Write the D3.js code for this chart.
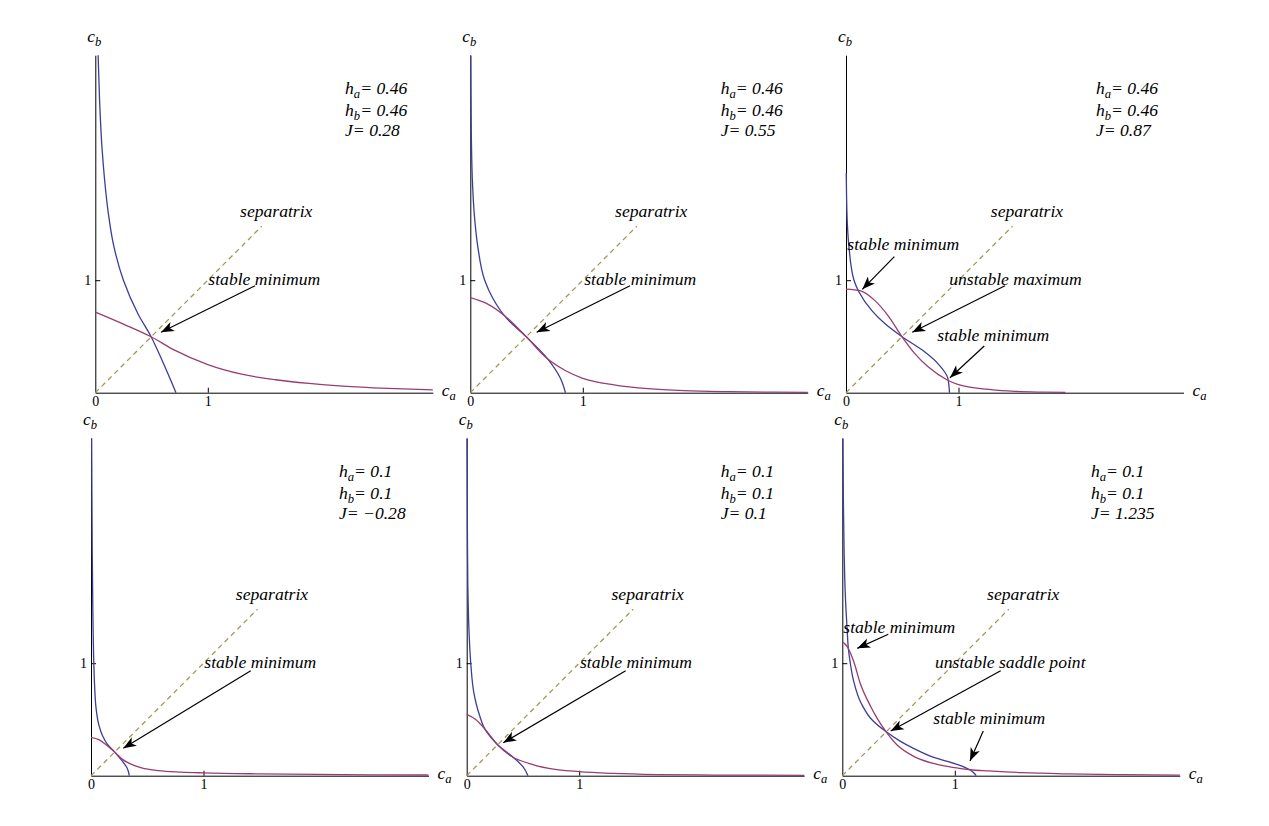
<!DOCTYPE html>
<html>
<head>
<meta charset="utf-8">
<script src="https://cdn.jsdelivr.net/npm/d3@7"></script>
<style>
  body { margin: 0; background: #fff; }
  svg text { font-family: 'Liberation Serif', 'Times New Roman', serif; }
</style>
</head>
<body>
<svg width="1269" height="826"></svg>
<script>
'use strict'

const d3 = window.d3

// parameters printed in each panel (top row left->right, then bottom row)
const hA = [0.46, 0.46, 0.46, 0.1, 0.1, 0.1]
const hB = [0.46, 0.46, 0.46, 0.1, 0.1, 0.1]
const J = [0.28, 0.55, 0.87, -0.28, 0.1, 1.235]

// purple nullcline [c_a, c_b].
// h_a = h_b so the blue nullcline is the same curve mirrored in the diagonal
const nullcline1 = [[0, 0.717], [0.25, 0.61], [0.5, 0.495], [0.7, 0.38], [1, 0.25], [1.3, 0.165],
  [1.6, 0.115], [1.9, 0.082], [2.2, 0.058], [2.6, 0.038], [3, 0.025]]
const nullcline2 = [[0, 0.846], [0.13, 0.8], [0.31, 0.68], [0.5, 0.495], [0.665, 0.32], [0.84, 0.2],
  [1, 0.128], [1.29, 0.068], [1.58, 0.036], [1.9, 0.018], [2.3, 0.009], [2.7, 0.005], [3, 0.003]]
const nullcline3 = [[0, 0.92], [0.13, 0.905], [0.25, 0.825], [0.37, 0.69], [0.5, 0.495], [0.61, 0.35],
  [0.73, 0.23], [0.9, 0.113], [1, 0.071], [1.29, 0.027], [1.5, 0.012], [1.75, 0.005], [1.95, 0.002]]
const nullcline4 = [[0, 0.341], [0.07, 0.32], [0.14, 0.27], [0.21, 0.21], [0.28, 0.145], [0.35, 0.105],
  [0.45, 0.07], [0.6, 0.045], [0.8, 0.032], [1, 0.025], [1.5, 0.016], [2, 0.011], [2.5, 0.008], [3, 0.006]]
const nullcline5 = [[0, 0.545], [0.08, 0.5], [0.17, 0.405], [0.275, 0.275], [0.4, 0.17], [0.55, 0.11],
  [0.73, 0.065], [1, 0.036], [1.3, 0.02], [1.7, 0.01], [2.2, 0.006], [3, 0.003]]
const nullcline6 = [[0, 1.19], [0.042, 1.15], [0.1, 1.02], [0.16, 0.82], [0.25, 0.62], [0.31, 0.51],
  [0.39, 0.39], [0.49, 0.27], [0.64, 0.17], [0.845, 0.1], [1, 0.071], [1.14, 0.053], [1.3, 0.043],
  [1.6, 0.027], [2, 0.016], [2.5, 0.009], [3, 0.005]]
const nullclines = [nullcline1, nullcline2, nullcline3, nullcline4, nullcline5, nullcline6]

const axisMax = 3
const separatrixEnd = 1.48
const xTicks = [0, 1]
const yTicks = [1]

// annotations, in data coordinates: label anchor, arrow start, arrow tip
const notes = [
  [{ text: 'stable minimum', at: [1.005, 0.957], from: [1.42, 0.951], to: [0.584, 0.537] }],
  [{ text: 'stable minimum', at: [1.013, 0.957], from: [1.42, 0.951], to: [0.59, 0.537] }],
  [
    { text: 'stable minimum', at: [0.012, 1.268], from: [0.43, 1.209], to: [0.145, 0.919] },
    { text: 'unstable maximum', at: [0.918, 0.957], from: [1.413, 0.951], to: [0.589, 0.537] },
    { text: 'stable minimum', at: [0.812, 0.462], from: [1.229, 0.415], to: [0.924, 0.133] }
  ],
  [{ text: 'stable minimum', at: [1.007, 0.955], from: [1.42, 0.933], to: [0.287, 0.243] }],
  [{ text: 'stable minimum', at: [1.007, 0.955], from: [1.413, 0.933], to: [0.325, 0.293] }],
  [
    { text: 'stable minimum', at: [0.009, 1.266], from: [0.409, 1.257], to: [0.133, 1.132] },
    { text: 'unstable saddle point', at: [0.824, 0.955], from: [1.408, 0.933], to: [0.43, 0.397] },
    { text: 'stable minimum', at: [0.809, 0.46], from: [1.253, 0.397], to: [1.135, 0.131] }
  ]
]

// layout
const originX = [95.3, 470.3, 846, 91, 466.7, 842.3]
const originY = [392.7, 392.7, 392.7, 775.7, 775.7, 775.7]
const side = 337.5
const paramX = [2.22, 2.226, 2.222, 2.204, 2.258, 2.21]
const paramY = [2.655, 2.462, 2.278]
const sepLabel = [1.287, 1.565]
const fontSize = 17.6

const blue = 'rgb(61,61,153)'
const purple = 'rgb(153,61,113)'
const olive = '#a09552'

const svg = d3.select('svg')

svg.append('defs').append('marker')
  .attr('id', 'head')
  .attr('viewBox', '-14 -6 16 12')
  .attr('markerWidth', 16)
  .attr('markerHeight', 12)
  .attr('markerUnits', 'userSpaceOnUse')
  .attr('refX', 0)
  .attr('refY', 0)
  .attr('orient', 'auto')
  .append('path')
  .attr('d', 'M0,0 L-13,-5 L-9.5,0 L-13,5 Z')
  .attr('fill', '#000')

const fmt = (v) => String(v).replace('-', '\u2212')

const subText = (g, x, y, base, sub, rest, size) => {
  const t = g.append('text')
    .attr('x', x)
    .attr('y', y)
    .attr('font-size', size)
    .attr('font-style', 'italic')
  t.append('tspan').text(base)
  t.append('tspan').attr('font-size', size * 0.72).attr('dy', size * 0.24).text(sub)
  if (rest) t.append('tspan').attr('dy', -size * 0.24).text(rest)
  return t
}

const drawPanel = (i) => {
  const ox = originX[i]
  const oy = originY[i]
  const x = d3.scaleLinear().domain([0, axisMax]).range([ox, ox + side])
  const y = d3.scaleLinear().domain([0, axisMax]).range([oy, oy - side])
  const g = svg.append('g')

  // axes
  const xAxis = d3.axisBottom(x).tickValues(xTicks).tickSizeInner(-5).tickSizeOuter(0)
    .tickPadding(3).tickFormat(d3.format('d'))
  const yAxis = d3.axisLeft(y).tickValues(yTicks).tickSizeInner(-5).tickSizeOuter(0)
    .tickPadding(4).tickFormat(d3.format('d'))
  const gx = g.append('g').attr('transform', `translate(0,${oy})`).call(xAxis)
  const gy = g.append('g').attr('transform', `translate(${ox},0)`).call(yAxis)
  for (const a of [gx, gy]) {
    a.selectAll('text').attr('font-size', 14).attr('font-family', 'Liberation Serif')
    a.select('.domain').attr('stroke', '#000')
  }
  gx.selectAll('.tick').filter((d) => d === 0).select('line').remove()

  subText(g, x(axisMax) + 9, oy + 3, 'c', 'a', '', 17.5)
  subText(g, ox - 8, y(axisMax) - 13, 'c', 'b', '', 17.5)

  // separatrix
  g.append('line')
    .attr('x1', x(0)).attr('y1', y(0))
    .attr('x2', x(separatrixEnd)).attr('y2', y(separatrixEnd))
    .attr('stroke', olive)
    .attr('stroke-width', 1.25)
    .attr('stroke-dasharray', '5,4')

  // nullclines
  const data = nullclines[i]
  const purpleLine = d3.line().x((d) => x(d[0])).y((d) => y(d[1])).curve(d3.curveMonotoneX)
  const blueLine = d3.line().x((d) => x(d[1])).y((d) => y(d[0])).curve(d3.curveMonotoneY)
  g.append('path').attr('d', blueLine(data))
    .attr('fill', 'none').attr('stroke', blue).attr('stroke-width', 1.3)
  g.append('path').attr('d', purpleLine(data))
    .attr('fill', 'none').attr('stroke', purple).attr('stroke-width', 1.3)

  // parameter block
  subText(g, x(paramX[i]), y(paramY[0]), 'h', 'a', '= ' + fmt(hA[i]), fontSize)
  subText(g, x(paramX[i]), y(paramY[1]), 'h', 'b', '= ' + fmt(hB[i]), fontSize)
  g.append('text')
    .attr('x', x(paramX[i])).attr('y', y(paramY[2]))
    .attr('font-size', fontSize).attr('font-style', 'italic')
    .text('J= ' + fmt(J[i]))

  g.append('text')
    .attr('x', x(sepLabel[0])).attr('y', y(sepLabel[1]))
    .attr('font-size', fontSize).attr('font-style', 'italic')
    .text('separatrix')

  notes[i].forEach((n) => {
    g.append('text')
      .attr('x', x(n.at[0])).attr('y', y(n.at[1]))
      .attr('font-size', fontSize).attr('font-style', 'italic')
      .text(n.text)
    g.append('line')
      .attr('x1', x(n.from[0])).attr('y1', y(n.from[1]))
      .attr('x2', x(n.to[0])).attr('y2', y(n.to[1]))
      .attr('stroke', '#000').attr('stroke-width', 1.2)
      .attr('marker-end', 'url(#head)')
  })
}

d3.range(6).forEach(drawPanel)
</script>
</body>
</html>
